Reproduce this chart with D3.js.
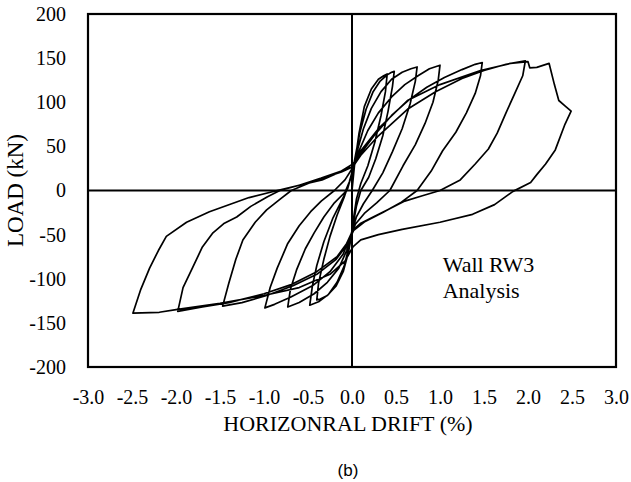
<!DOCTYPE html>
<html>
<head>
<meta charset="utf-8">
<script src="https://d3js.org/d3.v7.min.js"></script>
<style>
  body { margin: 0; background: #fff; }
  text { font-family: "Liberation Serif", "Times New Roman", serif; fill: #000; }
</style>
</head>
<body>
<div id="vis"></div>
<script>

// tick values
var driftTicks = [-3.0, -2.5, -2.0, -1.5, -1.0, -0.5, 0.0, 0.5, 1.0, 1.5, 2.0, 2.5, 3.0];
var loadTicks = [-200, -150, -100, -50, 0, 50, 100, 150, 200];

// hysteresis path, one array per cycle: [drift %, load kN]
var cycle1 = [
  [0, 0], [0.03, 30], [0.08, 65], [0.14, 95], [0.22, 115], [0.30, 126], [0.36, 130], [0.40, 132],
  [0.38, 112], [0.33, 85], [0.26, 55], [0.18, 28], [0.10, 8], [0.05, -10], [0.02, -30], [0, -48],
  [-0.04, -70], [-0.10, -92], [-0.18, -108], [-0.28, -119], [-0.36, -123], [-0.40, -124],
  [-0.38, -105], [-0.32, -78], [-0.25, -52], [-0.17, -28], [-0.09, -8], [-0.03, 10], [0.01, 24]
];
var cycle2 = [
  [0.04, 40], [0.09, 66], [0.16, 92], [0.24, 112], [0.32, 124], [0.40, 131], [0.45, 134], [0.48, 135],
  [0.46, 118], [0.41, 90], [0.35, 62], [0.27, 36], [0.19, 15], [0.10, 0], [0.05, -18], [0.01, -40],
  [-0.03, -62], [-0.09, -86], [-0.17, -104], [-0.27, -118], [-0.38, -126], [-0.48, -130],
  [-0.45, -108], [-0.40, -85], [-0.32, -58], [-0.22, -32], [-0.12, -12], [-0.05, 2], [-0.01, 16], [0.02, 26]
];
var cycle3 = [
  [0.06, 45], [0.13, 70], [0.22, 93], [0.33, 112], [0.45, 126], [0.57, 134], [0.67, 138], [0.74, 140],
  [0.72, 124], [0.66, 98], [0.57, 70], [0.46, 44], [0.35, 20], [0.23, 0], [0.13, -15], [0.05, -30], [0.0, -46],
  [-0.06, -68], [-0.15, -88], [-0.28, -104], [-0.43, -117], [-0.60, -127], [-0.73, -132],
  [-0.70, -112], [-0.63, -90], [-0.53, -66], [-0.43, -48], [-0.32, -30], [-0.20, -14], [-0.08, -2], [-0.02, 12], [0.02, 26]
];
var cycle4 = [
  [0.08, 45], [0.18, 68], [0.30, 88], [0.45, 106], [0.60, 120], [0.75, 130], [0.88, 138], [1.00, 142],
  [0.98, 125], [0.92, 100], [0.83, 76], [0.72, 52], [0.58, 28], [0.43, 0], [0.28, -14], [0.14, -26], [0.04, -38],
  [-0.02, -52], [-0.10, -72], [-0.25, -92], [-0.45, -108], [-0.70, -121], [-0.88, -129], [-0.99, -133],
  [-0.93, -110], [-0.85, -88], [-0.73, -60], [-0.60, -40], [-0.47, -24], [-0.35, -12], [-0.20, 0], [-0.08, 12], [0.01, 26]
];
var cycle5 = [
  [0.10, 42], [0.25, 62], [0.45, 85], [0.65, 103], [0.85, 117], [1.05, 128], [1.25, 137], [1.40, 143], [1.48, 145],
  [1.46, 130], [1.40, 110], [1.30, 88], [1.18, 66], [1.03, 45], [0.90, 22], [0.74, 0], [0.55, -14], [0.35, -25],
  [0.15, -35], [0.02, -45], [-0.06, -62], [-0.18, -78], [-0.40, -95], [-0.67, -108], [-0.97, -119], [-1.25, -127], [-1.47, -131],
  [-1.40, -105], [-1.32, -78], [-1.24, -56], [-1.10, -36], [-0.97, -22], [-0.82, -10], [-0.69, 0], [-0.50, 8],
  [-0.30, 15], [-0.12, 21], [0.01, 27]
];
var cycle6 = [
  [0.10, 40], [0.30, 62], [0.63, 92], [0.95, 112], [1.25, 127], [1.50, 136], [1.75, 143], [1.97, 147],
  [1.94, 130], [1.85, 110], [1.75, 88], [1.65, 65], [1.55, 47], [1.40, 30], [1.23, 12], [1.00, 0], [0.80, -6],
  [0.60, -12], [0.40, -22], [0.24, -30], [0.10, -37], [0.01, -45], [-0.06, -60], [-0.17, -75], [-0.40, -92],
  [-0.70, -107], [-1.00, -117], [-1.40, -127], [-1.70, -132], [-1.98, -137],
  [-1.92, -110], [-1.81, -87], [-1.70, -64], [-1.58, -48], [-1.45, -37], [-1.31, -30], [-1.15, -18], [-0.96, -7],
  [-0.82, 0], [-0.60, 6], [-0.35, 14], [-0.12, 22], [0.01, 30]
];
var cycle7 = [
  [0.10, 45], [0.30, 70], [0.63, 102], [1.00, 120], [1.46, 136], [1.80, 144], [2.00, 146],
  [2.02, 139], [2.10, 139.5], [2.24, 144], [2.30, 120], [2.35, 102], [2.42, 96], [2.49, 90],
  [2.42, 75], [2.31, 46], [2.20, 30], [2.10, 18], [2.03, 9], [1.83, -1], [1.62, -16], [1.37, -27], [1.00, -36],
  [0.57, -44], [0.30, -50], [0.10, -56], [0.01, -64], [-0.08, -80], [-0.25, -95], [-0.60, -110], [-1.00, -119],
  [-1.50, -128], [-2.00, -135], [-2.19, -138], [-2.49, -139],
  [-2.40, -112], [-2.30, -88], [-2.20, -68], [-2.11, -52], [-1.88, -36], [-1.62, -24], [-1.17, -8], [-0.85, 0],
  [-0.34, 12], [-0.02, 26]
];

var cycles = [cycle1, cycle2, cycle3, cycle4, cycle5, cycle6, cycle7];

// plot box inside the 631x482 picture
var margin = {top: 14, right: 15, bottom: 115, left: 88},
    width = 631 - margin.left - margin.right,
    height = 482 - margin.top - margin.bottom;

var x = d3.scaleLinear().domain([-3, 3]).range([0, width]);
var y = d3.scaleLinear().domain([-200, 200]).range([height, 0]);

var svg = d3.select("#vis").append("svg")
    .attr("width", 631)
    .attr("height", 482)
  .append("g")
    .attr("transform", "translate(" + margin.left + "," + margin.top + ")");

// frame
svg.append("rect")
    .attr("width", width)
    .attr("height", height)
    .attr("fill", "none")
    .attr("stroke", "#000")
    .attr("stroke-width", 2.2);

// zero lines
svg.append("line")
    .attr("x1", 0).attr("x2", width)
    .attr("y1", y(0)).attr("y2", y(0))
    .attr("stroke", "#000").attr("stroke-width", 2);
svg.append("line")
    .attr("x1", x(0)).attr("x2", x(0))
    .attr("y1", 0).attr("y2", height)
    .attr("stroke", "#000").attr("stroke-width", 2);

// the load-drift curve, all cycles joined
var line = d3.line()
    .x(function(d) { return x(d[0]); })
    .y(function(d) { return y(d[1]); });

svg.append("path")
    .datum(d3.merge(cycles))
    .attr("fill", "none")
    .attr("stroke", "#000")
    .attr("stroke-width", 1.7)
    .attr("stroke-linejoin", "round")
    .attr("d", line);

// axes, ticks drawn only as labels
var xAxis = svg.append("g")
    .attr("transform", "translate(0," + height + ")")
    .call(d3.axisBottom(x).tickValues(driftTicks).tickSize(0).tickPadding(23)
      .tickFormat(function(d) { return d < 0 ? "-" + d3.format(".1f")(-d) : d3.format(".1f")(d); }));
xAxis.select(".domain").remove();
xAxis.selectAll("text")
    .style("font-family", "Liberation Serif")
    .style("font-size", "20px");

var yAxis = svg.append("g")
    .call(d3.axisLeft(y).tickValues(loadTicks).tickSize(0).tickPadding(22)
      .tickFormat(function(d) { return d < 0 ? "-" + (-d) : d; }));
yAxis.select(".domain").remove();
yAxis.selectAll("text")
    .style("font-family", "Liberation Serif")
    .style("font-size", "20px");

// axis titles
svg.append("text")
    .attr("x", width / 2 - 4)
    .attr("y", height + 64)
    .attr("text-anchor", "middle")
    .style("font-size", "22px")
    .text("HORIZONRAL DRIFT (%)");

svg.append("text")
    .attr("transform", "translate(" + (-65) + "," + (height / 2) + ") rotate(-90)")
    .attr("text-anchor", "middle")
    .style("font-size", "23px")
    .text("LOAD (kN)");

// annotation
svg.append("text")
    .attr("x", x(1.03))
    .attr("y", y(-92))
    .style("font-size", "22px")
    .text("Wall RW3");
svg.append("text")
    .attr("x", x(1.03))
    .attr("y", y(-122))
    .style("font-size", "22px")
    .text("Analysis");

// panel label
svg.append("text")
    .attr("x", width / 2 - 4)
    .attr("y", height + 109)
    .attr("text-anchor", "middle")
    .style("font-family", "Liberation Sans, Arial, sans-serif")
    .style("font-size", "17px")
    .text("(b)");

</script>
</body>
</html>
